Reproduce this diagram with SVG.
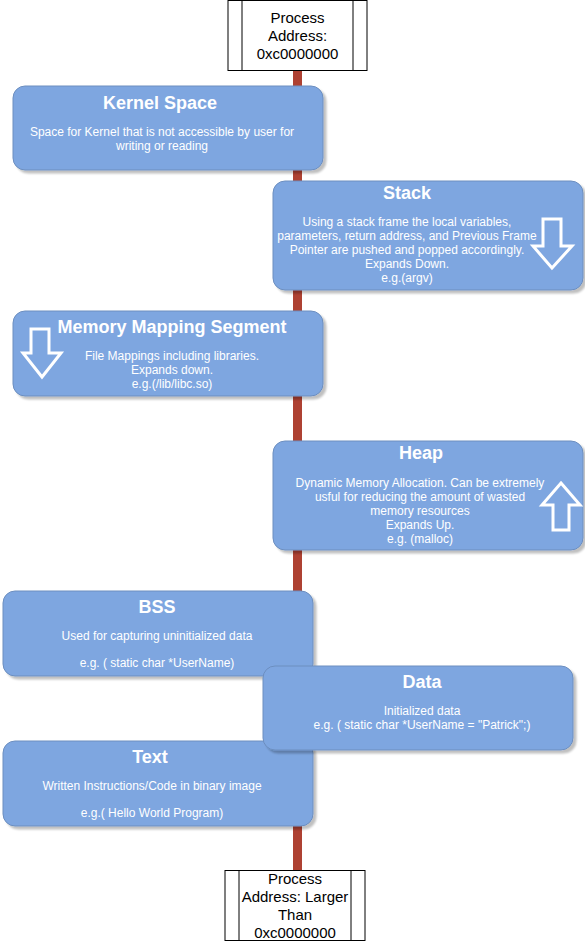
<svg xmlns="http://www.w3.org/2000/svg" width="585" height="941" viewBox="0 0 585 941">
<defs>
<filter id="sh" x="-10%" y="-10%" width="130%" height="140%">
<feGaussianBlur in="SourceAlpha" stdDeviation="1.2"/>
<feOffset dx="3" dy="3" result="o"/>
<feComponentTransfer><feFuncA type="linear" slope="0.25"/></feComponentTransfer>
<feMerge><feMergeNode/><feMergeNode in="SourceGraphic"/></feMerge>
</filter>
</defs>
<style>
.seg{fill:#7EA6E0;stroke:#6C8EBF;stroke-width:1;filter:url(#sh)}
.t{font-family:"Liberation Sans",Arial,sans-serif;font-weight:bold;font-size:18px;fill:#fff;text-anchor:middle}
.b{font-family:"Liberation Sans",Arial,sans-serif;font-size:12px;fill:#fff;text-anchor:middle}
.p{fill:#fff;stroke:#000;stroke-width:1}
.pt{font-family:"Liberation Sans",Arial,sans-serif;font-size:15px;fill:#000;text-anchor:middle}
.arr{fill:none;stroke:#fff;stroke-width:3;stroke-linejoin:miter}
</style>
<rect width="585" height="941" fill="#fff"/>
<g id="connectors">
<line x1="297.5" y1="70" x2="297.5" y2="870" stroke="#AE4132" stroke-width="9"/>
</g>
<g id="top">
<rect class="p" x="228" y="0.5" width="139" height="70"/>
<line x1="242" y1="0.5" x2="242" y2="70.5" stroke="#000"/>
<line x1="353" y1="0.5" x2="353" y2="70.5" stroke="#000"/>
<text class="pt" x="297.5" y="23">Process</text>
<text class="pt" x="297.5" y="41">Address:</text>
<text class="pt" x="297.5" y="59">0xc0000000</text>
</g>
<g id="kernel">
<rect class="seg" x="13" y="86" width="310" height="84" rx="12"/>
<text class="t" x="160" y="109">Kernel Space</text>
<text class="b" x="162" y="136">Space for Kernel that is not accessible by user for</text>
<text class="b" x="162" y="150">writing or reading</text>
</g>
<g id="stack">
<rect class="seg" x="273" y="181" width="310" height="109" rx="12"/>
<text class="t" x="407" y="199">Stack</text>
<text class="b" x="407" y="226">Using a stack frame the local variables,</text>
<text class="b" x="407" y="240">parameters, return address, and Previous Frame</text>
<text class="b" x="407" y="254">Pointer are pushed and popped accordingly.</text>
<text class="b" x="407" y="268">Expands Down.</text>
<text class="b" x="407" y="282">e.g.(argv)</text>
<path class="arr" d="M543,219 H561 V246 H572 L552,268 L533,246 H543 Z"/>
</g>
<g id="mmap">
<rect class="seg" x="13" y="311" width="310" height="85" rx="12"/>
<text class="t" x="172" y="333">Memory Mapping Segment</text>
<text class="b" x="172" y="360">File Mappings including libraries.</text>
<text class="b" x="172" y="374">Expands down.</text>
<text class="b" x="172" y="388">e.g.(/lib/libc.so)</text>
<path class="arr" d="M31,329 H49 V353 H61 L42,377 L23,353 H31 Z"/>
</g>
<g id="heap">
<rect class="seg" x="273" y="441" width="310" height="109" rx="12"/>
<text class="t" x="421" y="459">Heap</text>
<text class="b" x="420" y="487">Dynamic Memory Allocation. Can be extremely</text>
<text class="b" x="420" y="501">usful for reducing the amount of wasted</text>
<text class="b" x="420" y="515">memory resources</text>
<text class="b" x="420" y="529">Expands Up.</text>
<text class="b" x="420" y="543">e.g. (malloc)</text>
<path class="arr" d="M561,483 L580,505 H569 V530 H553 V505 H542 Z"/>
</g>
<g id="bss">
<rect class="seg" x="3" y="591" width="310" height="85" rx="12"/>
<text class="t" x="157" y="613">BSS</text>
<text class="b" x="157" y="640">Used for capturing uninitialized data</text>
<text class="b" x="157" y="667">e.g. ( static char *UserName)</text>
</g>
<g id="text">
<rect class="seg" x="3" y="741" width="310" height="85" rx="12"/>
<text class="t" x="150" y="763">Text</text>
<text class="b" x="152" y="790">Written Instructions/Code in binary image</text>
<text class="b" x="152" y="817">e.g.( Hello World Program)</text>
</g>
<g id="data">
<rect class="seg" x="263" y="666" width="310" height="84" rx="12"/>
<text class="t" x="422" y="688">Data</text>
<text class="b" x="422" y="715">Initialized data</text>
<text class="b" x="422" y="729">e.g. ( static char *UserName = "Patrick";)</text>
</g>
<g id="bottom">
<rect class="p" x="225" y="870.5" width="140" height="70"/>
<line x1="239" y1="870.5" x2="239" y2="940.5" stroke="#000"/>
<line x1="351" y1="870.5" x2="351" y2="940.5" stroke="#000"/>
<text class="pt" x="295" y="884">Process</text>
<text class="pt" x="295" y="902">Address: Larger</text>
<text class="pt" x="295" y="920">Than</text>
<text class="pt" x="295" y="938">0xc0000000</text>
</g>
</svg>
